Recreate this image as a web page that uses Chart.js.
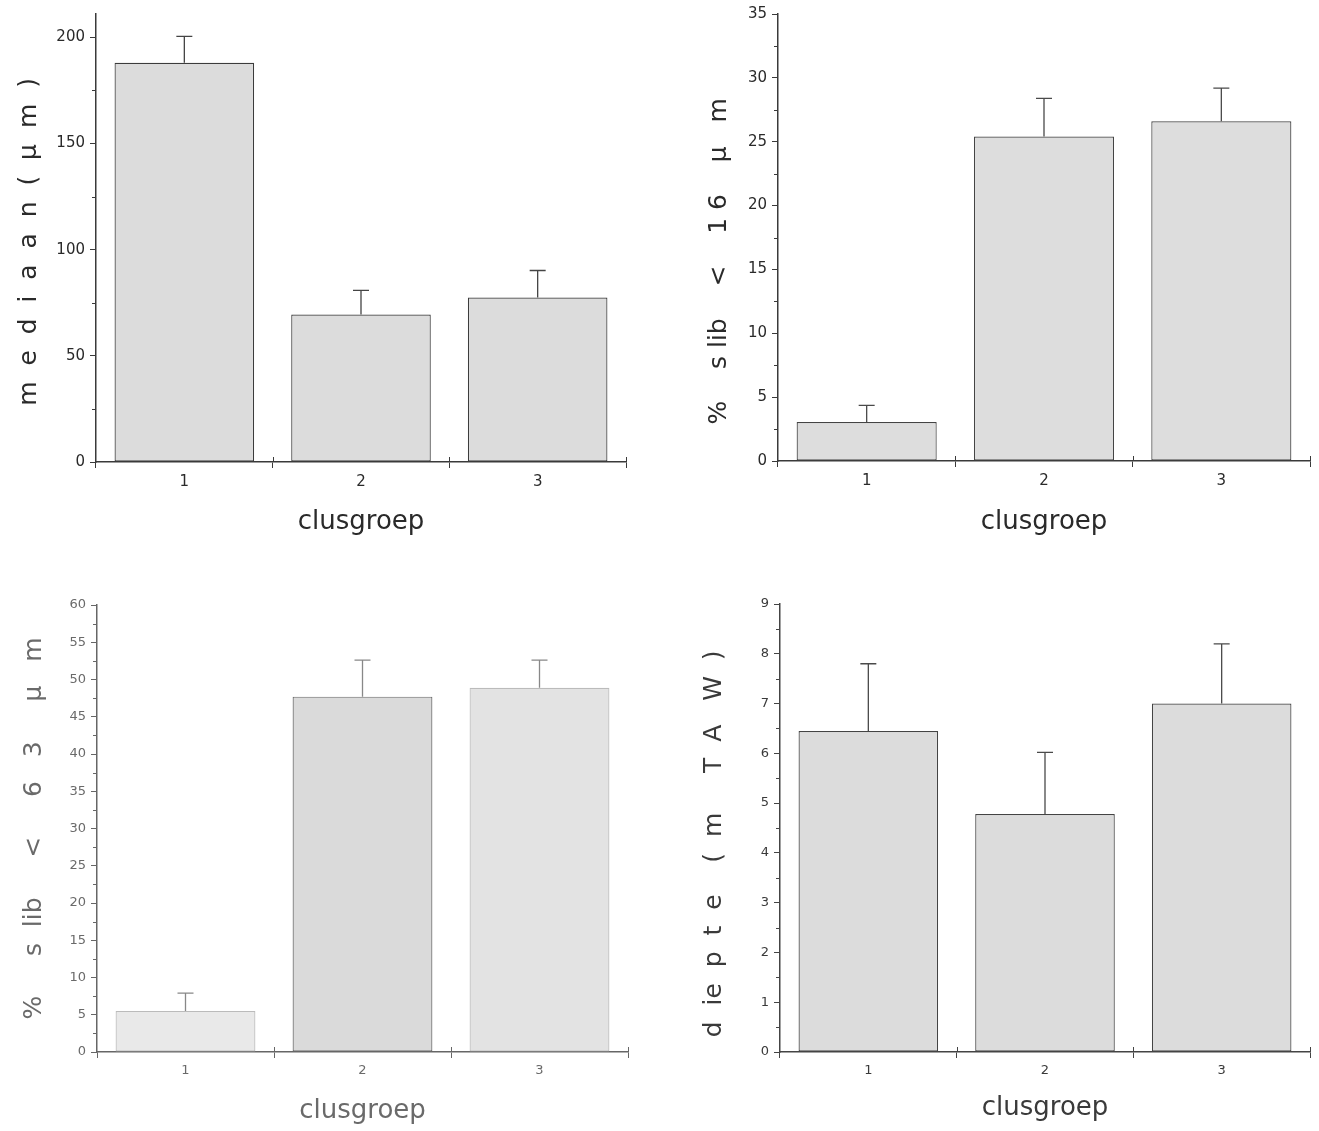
<!DOCTYPE html>
<html>
<head>
<meta charset="utf-8">
<script src="https://cdn.jsdelivr.net/npm/chart.js@4.4.1/dist/chart.umd.min.js"></script>
<style>
  body { margin: 0; background: #fff; width: 1319px; height: 1131px; position: relative; overflow: hidden; }
  canvas { position: absolute; }
</style>
</head>
<body>
<canvas id="c1" width="660" height="560" style="left:0;top:0"></canvas>
<canvas id="c2" width="659" height="560" style="left:660px;top:0"></canvas>
<canvas id="c3" width="660" height="571" style="left:0;top:560px"></canvas>
<canvas id="c4" width="659" height="571" style="left:660px;top:560px"></canvas>
<script>
// clusgroep categories
var categories = ['1', '2', '3'];

// mediaan (µm)
var mediaan = [188, 69.5, 77.5];
var mediaanErr = [12.5, 11.3, 12.7];

// % slib < 16 µm
var slib16 = [3.05, 25.4, 26.6];
var slib16Err = [1.3, 3.0, 2.6];

// % slib < 63 µm
var slib63 = [5.5, 47.7, 48.9];
var slib63Err = [2.4, 4.9, 3.7];

// diepte (m TAW)
var diepte = [6.45, 4.78, 7.0];
var diepteErr = [1.35, 1.24, 1.2];

var FONT = "'DejaVu Sans', sans-serif";

// upper error bars, drawn through the y scale
var errorBars = {
  id: 'errorBars',
  afterDatasetsDraw: function (chart) {
    var ctx = chart.ctx, y = chart.scales.y;
    chart.data.datasets.forEach(function (ds, i) {
      var meta = chart.getDatasetMeta(i);
      meta.data.forEach(function (bar, j) {
        var top = y.getPixelForValue(ds.data[j] + ds.err[j]);
        ctx.save();
        ctx.strokeStyle = ds.errColor;
        ctx.lineWidth = 1.3;
        ctx.beginPath();
        ctx.moveTo(bar.x, bar.y);
        ctx.lineTo(bar.x, top);
        ctx.moveTo(bar.x - 8, top);
        ctx.lineTo(bar.x + 8, top);
        ctx.stroke();
        ctx.restore();
      });
    });
  }
};

// small y ticks halfway between the labelled ones, and the upper half of the x ticks
var minorTicks = {
  id: 'minorTicks',
  afterDraw: function (chart, args, opts) {
    var ctx = chart.ctx, y = chart.scales.y, x = chart.scales.x;
    ctx.save();
    ctx.strokeStyle = opts.color;
    ctx.lineWidth = 1;
    for (var v = opts.step / 2; v < y.max; v += opts.step) {
      var py = Math.round(y.getPixelForValue(v)) + 0.5;
      ctx.beginPath();
      ctx.moveTo(y.right - 4, py);
      ctx.lineTo(y.right, py);
      ctx.stroke();
    }
    for (var k = 0; k < categories.length; k++) {
      var px = Math.round(x.getPixelForValue(k + 0.5)) + 0.5;
      ctx.beginPath();
      ctx.moveTo(px, x.top);
      ctx.lineTo(px, x.top - 5);
      ctx.stroke();
    }
    ctx.restore();
  }
};

function makeChart(id, o) {
  new Chart(document.getElementById(id), {
    type: 'bar',
    data: {
      labels: categories,
      datasets: [{
        data: o.values,
        err: o.errors,
        errColor: o.errColor,
        backgroundColor: o.fill,
        borderColor: o.edge,
        borderWidth: 1.2,
        borderSkipped: false,
        barPercentage: 0.79,
        categoryPercentage: 1
      }]
    },
    options: {
      responsive: false,
      animation: false,
      layout: { padding: { top: o.top, right: o.right, left: 0, bottom: 0 } },
      plugins: {
        legend: { display: false },
        tooltip: { enabled: false },
        minorTicks: { step: o.step, color: o.axis }
      },
      scales: {
        x: {
          grid: { display: true, offset: true, drawOnChartArea: false, tickLength: 6, color: o.axis },
          border: { color: o.axis, width: 1.5 },
          ticks: { font: { family: FONT, size: o.tickSize }, color: o.text, padding: 5 },
          title: {
            display: true, text: 'clusgroep', color: o.text,
            font: { family: FONT, size: 26 }, padding: { top: 0, bottom: o.xtPad }
          },
          afterFit: function (s) { s.height = o.xh; }
        },
        y: {
          min: 0, max: o.max,
          grid: { drawOnChartArea: false, tickLength: 6, color: o.axis },
          border: { color: o.axis, width: 1.5 },
          ticks: { stepSize: o.step, includeBounds: false, font: { family: FONT, size: o.tickSize }, color: o.text, padding: 5 },
          title: {
            display: true, text: o.ytitle, color: o.text,
            font: { family: FONT, size: 25 }, padding: { top: o.ytPad, bottom: 0 }
          },
          afterFit: function (s) { s.width = o.yw; }
        }
      }
    },
    plugins: [errorBars, minorTicks]
  });
}

makeChart('c1', {
  values: mediaan, errors: mediaanErr, max: 211, step: 50,
  ytitle: 'm  e  d  i  a  a  n  (  µ  m  ) ',
  fill: '#dcdcdc', edge: '#3c3c3c', errColor: '#444444', axis: '#3a3a3a', text: '#2a2a2a',
  tickSize: 15, top: 14, right: 34, yw: 96, xh: 98, ytPad: 14, xtPad: 22
});

makeChart('c2', {
  values: slib16, errors: slib16Err, max: 35, step: 5,
  ytitle: '%    s lib    <    1 6    µ   m      ',
  fill: '#dddddd', edge: '#444444', errColor: '#4a4a4a', axis: '#3a3a3a', text: '#2a2a2a',
  tickSize: 15, top: 13, right: 9, yw: 118, xh: 99, ytPad: 44, xtPad: 22
});

makeChart('c3', {
  values: slib63, errors: slib63Err, max: 60, step: 5,
  ytitle: '%     s  lib     <     6   3     µ   m',
  fill: ['#e9e9e9', '#dadada', '#e3e3e3'], edge: ['#bbbbbb', '#6a6a6a', '#bbbbbb'], errColor: '#888888',
  axis: '#666666', text: '#6a6a6a',
  tickSize: 13, top: 45, right: 32, yw: 97, xh: 79, ytPad: 19, xtPad: 4
});

makeChart('c4', {
  values: diepte, errors: diepteErr, max: 9, step: 1,
  ytitle: 'd  ie  p  t  e    (  m     T  A   W  )    ',
  fill: '#dcdcdc', edge: '#444444', errColor: '#4a4a4a', axis: '#444444', text: '#3a3a3a',
  tickSize: 13, top: 44, right: 9, yw: 120, xh: 79, ytPad: 39, xtPad: 7
});
</script>
</body>
</html>
